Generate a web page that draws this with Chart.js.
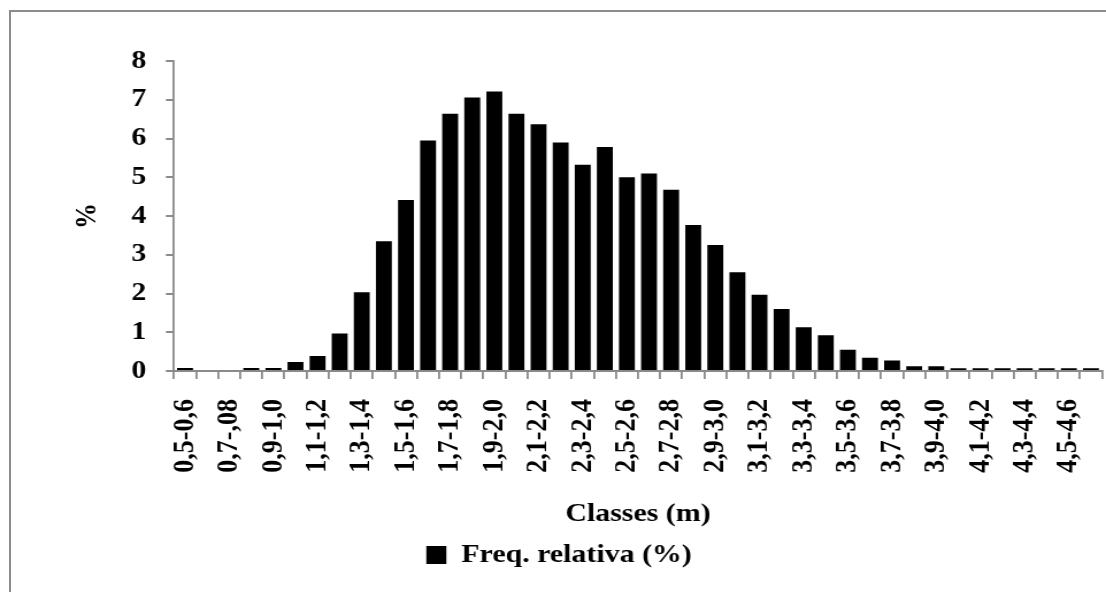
<!DOCTYPE html>
<html>
<head>
<meta charset="utf-8">
<script src="https://cdn.jsdelivr.net/npm/chart.js@4"></script>
<style>
  html, body { margin: 0; padding: 0; background: #fff; overflow: hidden; }
  #wrap { position: relative; width: 1106px; height: 592px; overflow: hidden; }
  #frame { position: absolute; left: 9px; top: 10px; width: 1200px; height: 700px;
           border: 2px solid #8c8c8c; box-sizing: border-box; }
  /* the drawing is widened horizontally, like the printed figure */
  #stretch { position: absolute; left: 0; top: 0; width: 962px; height: 592px;
             transform: scaleX(1.1497); transform-origin: 0 0; }
  #chart { display: block; }
</style>
</head>
<body>
<div id="wrap">
  <div id="frame"></div>
  <div id="stretch"><canvas id="chart" width="962" height="592"></canvas></div>
</div>
<script>
// Height classes (m)
const classes = [
  "0,5-0,6", "0,6-0,7", "0,7-,08", "0,8-0,9", "0,9-1,0", "1,0-1,1",
  "1,1-1,2", "1,2-1,3", "1,3-1,4", "1,4-1,5", "1,5-1,6", "1,6-1,7",
  "1,7-1,8", "1,8-1,9", "1,9-2,0", "2,0-2,1", "2,1-2,2", "2,2-2,3",
  "2,3-2,4", "2,4-2,5", "2,5-2,6", "2,6-2,7", "2,7-2,8", "2,8-2,9",
  "2,9-3,0", "3,0-3,1", "3,1-3,2", "3,2-3,3", "3,3-3,4", "3,4-3,5",
  "3,5-3,6", "3,6-3,7", "3,7-3,8", "3,8-3,9", "3,9-4,0", "4,0-4,1",
  "4,1-4,2", "4,2-4,3", "4,3-4,4", "4,4-4,5", "4,5-4,6", "4,6-4,7"
];

// Relative frequency (%) per class
const freqRelativa = [
  0.08, 0, 0, 0.08, 0.08, 0.23,
  0.39, 0.97, 2.03, 3.35, 4.41, 5.95,
  6.64, 7.06, 7.21, 6.64, 6.37, 5.90,
  5.32, 5.78, 5.00, 5.10, 4.68, 3.77,
  3.25, 2.55, 1.97, 1.60, 1.13, 0.92,
  0.55, 0.34, 0.27, 0.12, 0.12, 0.07,
  0.07, 0.07, 0.07, 0.07, 0.07, 0.07
];

// Y axis range
const yMin = 0;
const yMax = 8;
const yStep = 1;

const serif = "'Liberation Serif', 'Times New Roman', serif";
const axisGrey = '#8a8a8a';

new Chart(document.getElementById('chart'), {
  type: 'bar',
  data: {
    labels: classes,
    datasets: [{
      label: 'Freq. relativa (%)',
      data: freqRelativa,
      backgroundColor: '#000000',
      borderWidth: 0,
      categoryPercentage: 1.0,
      barPercentage: 0.72
    }]
  },
  options: {
    responsive: false,
    animation: false,
    layout: { padding: { top: 61, left: 14, right: 3.5, bottom: 14 } },
    plugins: {
      tooltip: { enabled: false },
      legend: {
        position: 'bottom',
        labels: {
          color: '#000',
          boxWidth: 17.4,
          boxHeight: 18,
          padding: 8,
          font: { family: serif, size: 26, weight: 'bold' }
        }
      }
    },
    scales: {
      x: {
        grid: {
          display: true,
          offset: true,
          drawOnChartArea: false,
          drawTicks: true,
          tickLength: 8,
          color: axisGrey,
          lineWidth: 1.8
        },
        border: { display: true, color: axisGrey, width: 2 },
        ticks: {
          autoSkip: false,
          maxRotation: 90,
          minRotation: 90,
          padding: 20,
          color: '#000',
          font: { family: serif, size: 26, weight: 'bold' },
          callback: (v, i) => (i % 2 === 0 ? classes[i] : '')
        },
        title: {
          display: true,
          text: 'Classes (m)',
          color: '#000',
          font: { family: serif, size: 26, weight: 'bold' },
          padding: { top: 4, bottom: 4 }
        },
        afterFit: (scale) => {
          scale.height = 163;
          scale.paddingLeft = 0;
          scale.paddingRight = 0;
        }
      },
      y: {
        min: yMin,
        max: yMax,
        grid: {
          display: true,
          drawOnChartArea: false,
          drawTicks: true,
          tickLength: 7,
          color: axisGrey,
          lineWidth: 2
        },
        border: { display: true, color: axisGrey, width: 1.8 },
        ticks: {
          stepSize: yStep,
          padding: 17,
          color: '#000',
          font: { family: serif, size: 26, weight: 'bold' }
        },
        title: {
          display: true,
          text: '%',
          color: '#000',
          font: { family: serif, size: 26, weight: 'bold' },
          padding: { top: 47, bottom: 0 }
        },
        afterFit: (scale) => { scale.width = 137.3; }
      }
    }
  }
});
</script>
</body>
</html>
